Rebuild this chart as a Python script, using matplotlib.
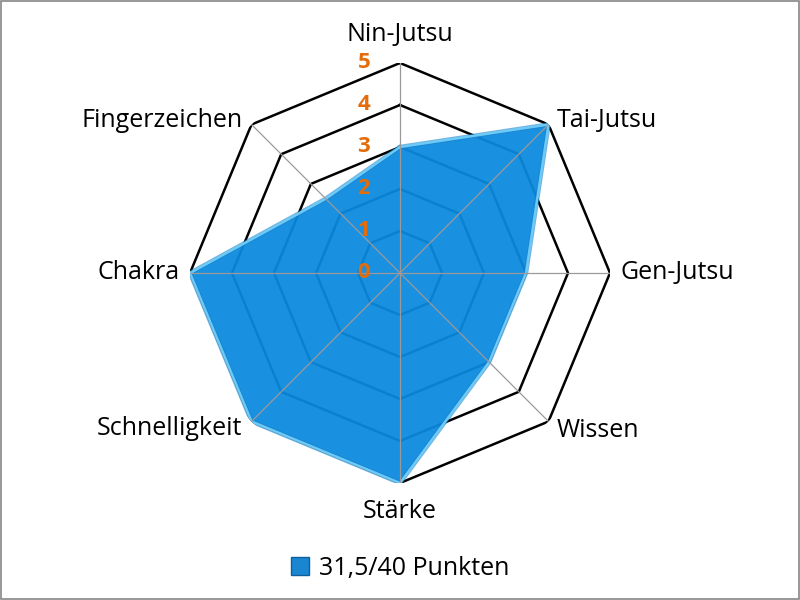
import numpy as np
import matplotlib
matplotlib.use("Agg")
import matplotlib.pyplot as plt
from matplotlib.patches import Patch, Rectangle

categories = ["Nin-Jutsu", "Tai-Jutsu", "Gen-Jutsu", "Wissen",
              "Stärke", "Schnelligkeit", "Chakra", "Fingerzeichen"]
values = [3, 5, 3, 3, 5, 5, 5, 2.5]
ring_levels = [0, 1, 2, 3, 4, 5]
series_label = "31,5/40 Punkten"

# pixel offsets of each category label from its outer corner, with alignment
label_offsets = [(0, 28, "center"), (8, 4, "left"), (10, 0, "left"), (8, -9, "left"),
                 (0, -29, "center"), (-9, -7, "right"), (-10, 0, "right"), (-9, 4, "right")]

plt.rcParams["font.family"] = ["Open Sans", "DejaVu Sans"]

fig = plt.figure(figsize=(8, 6), dpi=100)
ax = fig.add_axes([0.2375, 0.195, 0.525, 0.70], projection="polar")
ax.set_theta_offset(np.pi / 2)
ax.set_theta_direction(-1)
ax.set_ylim(0, 5)
ax.grid(False)
ax.spines["polar"].set_visible(False)
ax.set_xticks([])
ax.set_yticks([])
ax.patch.set_alpha(0)

n = len(categories)
angles = np.linspace(0, 2 * np.pi, n, endpoint=False)
closed = np.append(angles, angles[0])

# octagonal gridlines
for r in ring_levels[1:]:
    ax.plot(closed, [r] * (n + 1), color="black", lw=1.8, zorder=1)

# filled series
vals = np.append(values, values[0])
ax.fill(closed, vals, color="#0b89df", alpha=0.94, zorder=2, lw=0)
ax.plot(closed, vals, color="#1a7fc8", lw=3.2, zorder=3, alpha=0.6)
ax.plot(closed, vals, color="#6ccaf6", lw=1.8, zorder=4)

# spokes
for a in angles:
    ax.plot([a, a], [0, 5], color="#9a9a9a", lw=0.9, zorder=5)

# radial value labels
for r in ring_levels:
    ax.annotate(str(r), xy=(0, r), xytext=(-26, 0), textcoords="offset points",
                ha="center", va="center", fontsize=16, fontweight="bold",
                color="#E46C0A", zorder=6)

# category labels
for a, name, (dx, dy, ha) in zip(angles, categories, label_offsets):
    ax.annotate(name, xy=(a, 5), xytext=(dx * 0.72, dy * 0.72),
                textcoords="offset points", ha=ha, va="center",
                fontsize=18, color="black", annotation_clip=False)

handle = Patch(facecolor="#1a86d2", edgecolor="#0e5f9a", lw=1.0)
fig.legend([handle], [series_label], loc="center", bbox_to_anchor=(0.5, 1 - 568 / 600),
           frameon=False, fontsize=18, handlelength=0.7, handleheight=0.7,
           handletextpad=0.4)

fig.patches.append(Rectangle((0.0015, 0.002), 0.997, 0.996, transform=fig.transFigure,
                             fill=False, edgecolor="#868686", lw=1.2))

fig.savefig("out.png", dpi=100)
